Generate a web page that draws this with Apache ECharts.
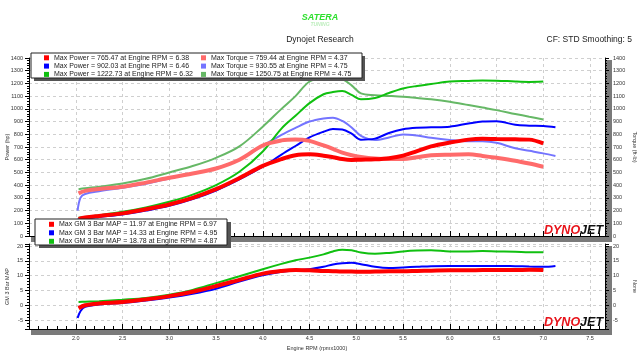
<!DOCTYPE html>
<html><head><meta charset="utf-8">
<script src="https://cdn.jsdelivr.net/npm/echarts@6/dist/echarts.min.js"></script>
<style>html,body{margin:0;padding:0;background:#fff}#c{width:640px;height:360px}</style>
</head><body><div id="c"></div>
<script>
// ---- data ----
const rpm = [2.03, 2.1, 2.25, 2.5, 2.75, 3.0, 3.25, 3.5, 3.75, 4.0, 4.2, 4.35, 4.5, 4.65, 4.75, 4.85, 4.95, 5.05, 5.2, 5.35, 5.5, 5.65, 5.8, 6.0, 6.2, 6.35, 6.5, 6.7, 6.85, 7.0];
const rpmBlue = [2.02, 2.05, 2.1, 2.25, 2.5, 2.75, 3.0, 3.25, 3.5, 3.75, 4.0, 4.2, 4.35, 4.5, 4.65, 4.75, 4.85, 4.95, 5.05, 5.2, 5.35, 5.5, 5.65, 5.8, 6.0, 6.2, 6.35, 6.5, 6.7, 6.85, 7.0, 7.13];

const powerRed   = [135, 145, 158, 178, 210, 248, 300, 368, 455, 552, 605, 635, 642, 632, 620, 605, 598, 600, 603, 612, 632, 668, 705, 735, 758, 765, 762, 760, 758, 728];
const powerBlue  = [130, 132, 138, 150, 169, 200, 237, 290, 358, 445, 545, 640, 708, 775, 820, 842, 838, 805, 758, 766, 810, 840, 852, 855, 860, 885, 900, 902, 875, 868, 865, 855];
const powerGreen = [143, 150, 163, 190, 225, 269, 325, 400, 505, 665, 845, 945, 1045, 1115, 1132, 1140, 1110, 1075, 1085, 1125, 1160, 1180, 1195, 1215, 1220, 1223, 1222, 1215, 1212, 1215];

const torqueRed   = [335, 355, 370, 387, 420, 458, 492, 531, 600, 712, 752, 759, 748, 712, 685, 655, 635, 622, 610, 605, 605, 620, 635, 640, 642, 630, 615, 592, 570, 545];
const torqueBlue  = [200, 300, 330, 352, 379, 410, 453, 490, 531, 600, 710, 795, 850, 900, 925, 931, 905, 854, 788, 755, 775, 799, 790, 772, 755, 745, 745, 733, 690, 670, 650, 630];
const torqueGreen = [368, 375, 388, 413, 450, 500, 550, 615, 705, 860, 1000, 1100, 1215, 1245, 1250, 1235, 1185, 1122, 1108, 1102, 1095, 1085, 1075, 1056, 1030, 1010, 990, 960, 938, 917];

const mapRed   = [-1.0, 0.0, 0.6, 1.1, 2.0, 3.1, 4.6, 6.5, 8.6, 10.7, 11.6, 11.9, 11.8, 11.6, 11.5, 11.4, 11.4, 11.3, 11.4, 11.5, 11.5, 11.6, 11.7, 11.8, 11.8, 11.9, 11.9, 11.9, 11.97, 11.9];
const mapBlue  = [-4.3, -2.0, -0.5, 0.3, 0.8, 1.6, 2.6, 3.9, 5.6, 8.0, 10.1, 11.3, 11.8, 12.2, 13.0, 13.8, 14.2, 14.33, 13.9, 13.0, 12.6, 12.8, 13.0, 13.2, 13.3, 13.3, 13.3, 13.3, 13.2, 13.1, 13.0, 13.3];
const mapGreen = [1.1, 1.2, 1.4, 1.9, 2.5, 3.6, 5.2, 7.5, 9.8, 12.2, 14.0, 15.2, 16.1, 17.2, 18.2, 18.75, 18.6, 17.8, 17.4, 17.7, 18.2, 18.5, 18.6, 18.2, 18.2, 18.3, 18.2, 18.1, 17.9, 17.9];

const powerNames  = ['Max Power = 765.47 at Engine RPM = 6.38', 'Max Power = 902.03 at Engine RPM = 6.46', 'Max Power = 1222.73 at Engine RPM = 6.32'];
const torqueNames = ['Max Torque = 759.44 at Engine RPM = 4.37', 'Max Torque = 930.55 at Engine RPM = 4.75', 'Max Torque = 1250.75 at Engine RPM = 4.75'];
const mapNames    = ['Max GM 3 Bar MAP = 11.97 at Engine RPM = 6.97', 'Max GM 3 Bar MAP = 14.33 at Engine RPM = 4.95', 'Max GM 3 Bar MAP = 18.78 at Engine RPM = 4.87'];
const xTickLabels = ['2.0','2.5','3.0','3.5','4.0','4.5','5.0','5.5','6.0','6.5','7.0','7.5'];

// ---- styles ----
const FONT = 'Liberation Sans';
const cRed = '#ff0000', cBlue = '#0000ff', cGreen = '#10c010';
const cRedL = '#ff6b6b', cBlueL = '#7474ff', cGreenL = '#66b866';

const pairs = (xs, ys) => xs.map((x, i) => [x, ys[i]]);

function xAx(gi, showLabel) {
  return {
    type: 'value', gridIndex: gi, min: 1.5, max: 7.66, interval: 0.5,
    axisLine: { show: true, onZero: false, lineStyle: { color: '#000', width: 1 } },
    axisTick: { show: true, inside: true, length: 5, lineStyle: { color: '#000' } },
    minorTick: { show: true, splitNumber: 5, length: 3, lineStyle: { color: '#000' } },
    splitLine: { show: true, lineStyle: { color: '#cfcfcf', type: [3, 3] } },
    minorSplitLine: { show: false },
    axisLabel: {
      show: showLabel, color: '#333', fontSize: 5.5, fontFamily: FONT, margin: 6,
      formatter: v => { const s = Number(v).toFixed(1); return xTickLabels.indexOf(s) >= 0 && Math.abs(v * 2 - Math.round(v * 2)) < 1e-6 ? s : ''; }
    },
    name: showLabel ? 'Engine RPM (rpmx1000)' : '', nameLocation: 'middle', nameGap: 16, nameMoveOverlap: false,
    nameTextStyle: { color: '#333', fontSize: 5.5, fontFamily: FONT }
  };
}
function yAx(gi, pos, min, max, interval, name, step) {
  const o = {
    type: 'value', gridIndex: gi, position: pos, min: min, max: max,
    axisLine: { show: true, lineStyle: { color: '#000', width: 1 } },
    axisTick: { show: true, inside: false, length: 4, lineStyle: { color: '#000' } },
    minorTick: { show: true, splitNumber: 5, length: 2, lineStyle: { color: '#000' } },
    splitLine: { show: pos === 'left', lineStyle: { color: '#cfcfcf', type: [3, 3] } },
    axisLabel: {
      color: '#333', fontSize: 5.5, fontFamily: FONT, margin: pos === 'left' ? 6 : 8,
      formatter: v => (Math.abs(v / step - Math.round(v / step)) < 1e-6 ? String(Math.round(v)) : '')
    },
    name: name, nameLocation: 'middle', nameGap: pos === 'left' ? 19 : 27, nameRotate: pos === 'left' ? 90 : -90,
    nameMoveOverlap: false,
    nameTextStyle: { color: '#333', fontSize: 5.5, fontFamily: FONT }
  };
  if (interval) o.interval = interval; else o.splitNumber = 5;
  return o;
}
function ln(name, x, y, color, width, xi, yi) {
  return { type: 'line', name, data: pairs(x, y), xAxisIndex: xi, yAxisIndex: yi, showSymbol: false, symbol: 'none',
    smooth: 0.35, lineStyle: { color, width }, itemStyle: { color }, z: width > 3 ? 3 : 2, silent: true, animation: false };
}
const legText = { color: '#222', fontSize: 7, fontFamily: FONT };
function leg(names, left, top, gap) {
  return { data: names, orient: 'vertical', left, top, padding: 0, itemGap: gap, itemWidth: 5, itemHeight: 5,
    icon: 'rect', selectedMode: false, textStyle: legText, z: 20, backgroundColor: 'transparent' };
}

const chart = echarts.init(document.getElementById('c'), null, { renderer: 'canvas' });
chart.setOption({
  animation: false,
  backgroundColor: '#fff',
  grid: [
    { left: 29, right: 35, top: 58, height: 178, outerBoundsMode: 'none', containLabel: false },
    { left: 29, right: 35, top: 244, height: 85, outerBoundsMode: 'none', containLabel: false }
  ],
  xAxis: [xAx(0, false), xAx(1, true)],
  yAxis: [
    yAx(0, 'left', 0, 1400, 100, 'Power (hp)', 100),
    yAx(0, 'right', 0, 1400, 100, 'Torque (ft-lb)', 100),
    yAx(1, 'left', -8, 20.7, null, 'GM 3 Bar MAP', 5),
    yAx(1, 'right', -8, 20.7, null, 'None', 5)
  ],
  legend: [
    leg(powerNames, 44, 54.3, 1.3),
    leg(torqueNames, 201, 54.3, 1.3),
    leg(mapNames, 49, 220.8, 1.5)
  ],
  series: [
    ln(torqueNames[2], rpm, torqueGreen, cGreenL, 2, 0, 1),
    ln(torqueNames[1], rpmBlue, torqueBlue, cBlueL, 2, 0, 1),
    ln(torqueNames[0], rpm, torqueRed, cRedL, 4, 0, 1),
    ln(powerNames[2], rpm, powerGreen, cGreen, 2, 0, 0),
    ln(powerNames[1], rpmBlue, powerBlue, cBlue, 2, 0, 0),
    ln(powerNames[0], rpm, powerRed, cRed, 4, 0, 0),
    ln(mapNames[2], rpm, mapGreen, cGreen, 2, 1, 2),
    ln(mapNames[1], rpmBlue, mapBlue, cBlue, 2, 1, 2),
    ln(mapNames[0], rpm, mapRed, cRed, 4, 1, 2)
  ],
  graphic: [
    // 3D shading bands of plot frames
    { type: 'rect', z: -1, shape: { x: 606, y: 60, width: 6, height: 182 }, style: { fill: '#7a7a7a' } },
    { type: 'rect', z: -1, shape: { x: 31, y: 237, width: 581, height: 5 }, style: { fill: '#7a7a7a' } },
    { type: 'rect', z: -1, shape: { x: 606, y: 246, width: 6, height: 89 }, style: { fill: '#7a7a7a' } },
    { type: 'rect', z: -1, shape: { x: 31, y: 330, width: 581, height: 5 }, style: { fill: '#7a7a7a' } },
    // legend boxes
    { type: 'rect', z: 5, shape: { x: 34, y: 56, width: 331, height: 25 }, style: { fill: '#555' } },
    { type: 'rect', z: 6, shape: { x: 31, y: 53, width: 331, height: 25 }, style: { fill: '#fff', stroke: '#222', lineWidth: 1 } },
    { type: 'rect', z: 5, shape: { x: 39, y: 222, width: 192, height: 26 }, style: { fill: '#555' } },
    { type: 'rect', z: 6, shape: { x: 35, y: 219, width: 192, height: 26 }, style: { fill: '#fff', stroke: '#222', lineWidth: 1 } },
    // header
    { type: 'text', z: 10, left: 'center', top: 35, style: { text: 'Dynojet Research', fill: '#222', fontSize: 8.5, fontFamily: FONT } },
    { type: 'text', z: 10, right: 8, top: 35, style: { text: 'CF: STD Smoothing: 5', fill: '#222', fontSize: 8.5, fontFamily: FONT } },
    { type: 'text', z: 10, left: 'center', top: 13, style: { text: 'SATERA', fill: '#2ee02e', fontSize: 9, fontWeight: 'bold', fontStyle: 'italic', fontFamily: FONT } },
    { type: 'text', z: 10, left: 'center', top: 22, style: { text: 'TUNING', fill: '#bfeebf', fontSize: 5, fontWeight: 'bold', fontStyle: 'italic', fontFamily: FONT } },
    // dynojet logos
    { type: 'text', z: 10, left: 544, top: 224, style: { text: '{a|DYNO}{b|JET}', rich: {
      a: { fill: '#e8141b', fontSize: 12.5, fontWeight: 'bold', fontStyle: 'italic', fontFamily: FONT },
      b: { fill: '#111', fontSize: 12.5, fontWeight: 'bold', fontStyle: 'italic', fontFamily: FONT } } } },
    { type: 'text', z: 10, left: 544, top: 316, style: { text: '{a|DYNO}{b|JET}', rich: {
      a: { fill: '#e8141b', fontSize: 12.5, fontWeight: 'bold', fontStyle: 'italic', fontFamily: FONT },
      b: { fill: '#111', fontSize: 12.5, fontWeight: 'bold', fontStyle: 'italic', fontFamily: FONT } } } }
  ]
});
</script>
</body></html>
